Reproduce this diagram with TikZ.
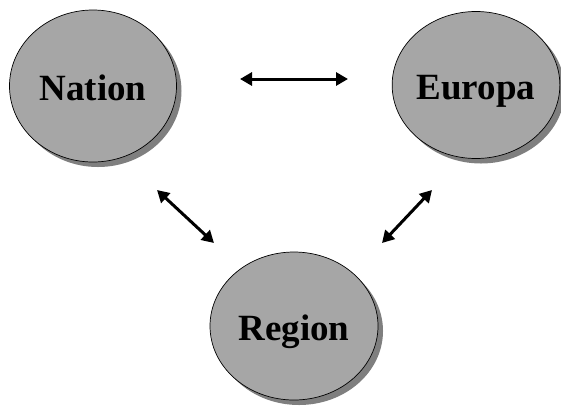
\documentclass[tikz,border=0pt]{standalone}
\usepackage{fontspec}
\setmainfont{Liberation Serif}
\usetikzlibrary{shapes.geometric,arrows.meta,shadows}
\definecolor{blobfill}{HTML}{A6A6A6}
\definecolor{blobshadow}{HTML}{7F7F7F}
\tikzset{
  blob/.style={ellipse, draw=black, line width=0.7pt, fill=blobfill,
    inner sep=0pt, text height=28pt, text depth=0pt,
    font=\bfseries\fontsize{37}{40}\selectfont,
    drop shadow={shadow xshift=5pt, shadow yshift=-5pt, fill=blobshadow, opacity=1}},
  link/.style={line width=3pt, {Triangle[length=12pt,width=13pt]}-{Triangle[length=12pt,width=13pt]}}
}
\begin{document}
\begin{tikzpicture}[x=1pt,y=-1pt]
\useasboundingbox (0,0) rectangle (561,405);
\node[blob, minimum width=167pt, minimum height=152pt] (nation) at (93,86) {Nation};
\node[blob, minimum width=164pt, minimum height=147pt] (europa) at (476,85) {Europa};
\node[blob, minimum width=168pt, minimum height=148pt] (region) at (294,326) {Region};
\coordinate (h1) at (240,79);
\coordinate (h2) at (348,79);
\coordinate (l1) at (157,190);
\coordinate (l2) at (214,243);
\coordinate (r1) at (432,190);
\coordinate (r2) at (382,243);
\draw[link] (h1) -- (h2);
\draw[link] (l1) -- (l2);
\draw[link] (r1) -- (r2);
\end{tikzpicture}
\end{document}
